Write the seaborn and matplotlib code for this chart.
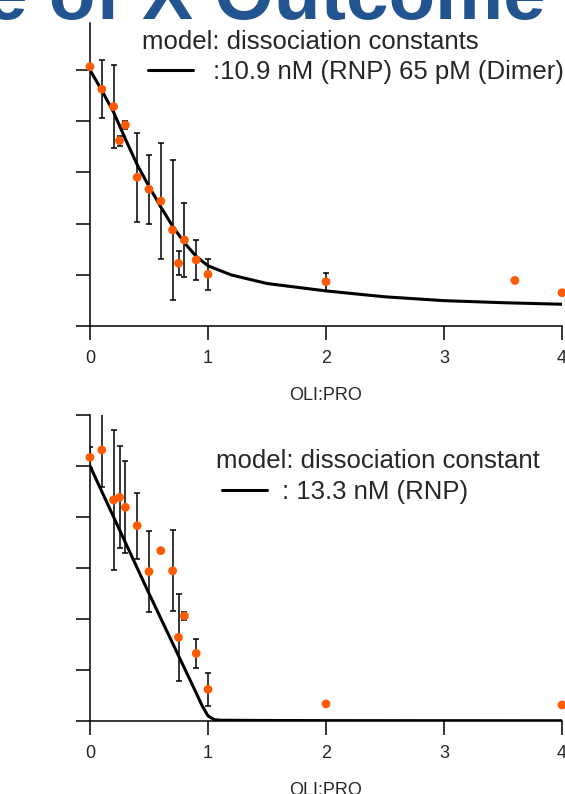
import matplotlib
matplotlib.use("Agg")
import matplotlib.pyplot as plt
from matplotlib.lines import Line2D
import seaborn as sns

# ---------------------------------------------------------------------
# Dados
# ---------------------------------------------------------------------
# painel superior: modelo com duas constantes (RNP + dímero)
top_x = [0, 0.1, 0.2, 0.25, 0.3, 0.4, 0.5, 0.6, 0.7, 0.75, 0.8, 0.9, 1.0, 2.0, 3.6, 4.0]
top_y = [1.013, 0.925, 0.857, 0.724, 0.785, 0.581, 0.534, 0.488, 0.375, 0.245,
         0.336, 0.258, 0.202, 0.173, 0.178, 0.130]
top_err = [0, 0.112, 0.163, 0.02, 0.017, 0.173, 0.135, 0.225, 0.272, 0.046,
           0.143, 0.077, 0.06, 0.035, 0, 0]
top_model_x = [0, 0.1, 0.2, 0.3, 0.4, 0.5, 0.6, 0.7, 0.8, 0.9, 1.0, 1.2, 1.5,
               2.0, 2.5, 3.0, 3.5, 4.0]
top_model_y = [1.0, 0.92, 0.835, 0.73, 0.63, 0.545, 0.465, 0.39, 0.325, 0.272,
               0.235, 0.199, 0.166, 0.137, 0.114, 0.099, 0.091, 0.085]

# painel inferior: modelo com uma constante (RNP)
bot_x = [0, 0.1, 0.2, 0.25, 0.3, 0.4, 0.5, 0.6, 0.7, 0.75, 0.8, 0.9, 1.0, 2.0, 4.0]
bot_y = [1.034, 1.063, 0.867, 0.877, 0.838, 0.766, 0.586, 0.668, 0.589, 0.328,
         0.412, 0.265, 0.124, 0.067, 0.063]
bot_err = [0.041, 0.146, 0.275, 0.2, 0.18, 0.13, 0.16, 0, 0.159, 0.17, 0.017,
           0.057, 0.066, 0, 0]
bot_model_x = [0, 0.5, 0.9, 0.95, 1.0, 1.05, 1.1, 1.5, 2.0, 4.0]
bot_model_y = [1.0, 0.50, 0.11, 0.06, 0.02, 0.006, 0.003, 0.002, 0.0015, 0.001]

x_ticks = [0, 1, 2, 3, 4]
top_yticks = [0, 0.2, 0.4, 0.6, 0.8, 1.0]
bot_yticks = [0, 0.2, 0.4, 0.6, 0.8, 1.0, 1.2]

top_title = "model: dissociation constants"
top_label = ":10.9 nM (RNP) 65 pM (Dimer)"
bot_title = "model: dissociation constant"
bot_label = ": 13.3 nM (RNP)"
x_label = "OLI:PRO"
slide_title = "e of X Outcome"

ORANGE = "#ff5a00"
BLUE = "#22558f"

sns.set_theme(style="ticks")
plt.rcParams["font.family"] = ["Liberation Sans", "DejaVu Sans"]

W, H = 565, 794
fig = plt.figure(figsize=(W / 100, H / 100), dpi=100)


def px_axes(left, right, bottom, top):
    return fig.add_axes([left / W, 1 - bottom / H, (right - left) / W,
                         (bottom - top) / H])


def draw_panel(ax, x, y, err, mx, my, ylim, yticks):
    ax.errorbar(x, y, yerr=err, fmt="none", ecolor="black", elinewidth=1.1,
                capsize=2.3, capthick=1.1, zorder=2)
    sns.lineplot(x=mx, y=my, color="black", linewidth=2.2, ax=ax, zorder=3)
    sns.scatterplot(x=x, y=y, color=ORANGE, s=40, edgecolor="none", ax=ax,
                    zorder=4, clip_on=False)
    ax.set_xlim(0, 4)
    ax.set_ylim(*ylim)
    ax.set_xticks(x_ticks)
    ax.set_xticklabels([str(t) for t in x_ticks], fontsize=13)
    ax.set_yticks(yticks)
    ax.set_yticklabels([])
    ax.tick_params(direction="out", length=10, width=1.1, color="black",
                   pad=7)
    for side in ("top", "right"):
        ax.spines[side].set_visible(False)
    for side in ("left", "bottom"):
        ax.spines[side].set_linewidth(1.1)
        ax.spines[side].set_color("black")
    ax.set_xlabel(x_label, fontsize=13, labelpad=15)
    ax.set_ylabel("")
    ax.set_facecolor("white")


ax1 = px_axes(90, 562, 326, 22.6)
draw_panel(ax1, top_x, top_y, top_err, top_model_x, top_model_y,
           (0, 1.185), top_yticks)

ax2 = px_axes(90, 562, 721, 415)
draw_panel(ax2, bot_x, bot_y, bot_err, bot_model_x, bot_model_y,
           (0, 1.2), bot_yticks)


def model_legend(ax, title, label, title_xy, handle_xy, textpad):
    fig.text(title_xy[0] / W, 1 - title_xy[1] / H, title, fontsize=18.5,
             ha="left", va="center")
    h = [Line2D([], [], color="black", linewidth=2.2)]
    ax.legend(h, [label], loc="center left",
              bbox_to_anchor=(handle_xy[0] / W, 1 - handle_xy[1] / H),
              bbox_transform=fig.transFigure, frameon=False,
              fontsize=18.5, handlelength=1.76, handletextpad=textpad,
              borderpad=0, borderaxespad=0)


model_legend(ax1, top_title, top_label, (142, 42), (148, 72), 0.78)
model_legend(ax2, bot_title, bot_label, (216, 461), (222, 492), 0.58)

# texto do slide, cortado no topo
fig.text(-15 / W, 1 - 19 / H, slide_title, color=BLUE, fontsize=55,
         fontweight="bold", ha="left", va="baseline")
fig.text(-16 / W, 1 - 76 / H, "o", color=BLUE, fontsize=20,
         fontweight="bold", ha="left", va="baseline")

fig.savefig("out.png", dpi=100, facecolor="white")
plt.close(fig)
